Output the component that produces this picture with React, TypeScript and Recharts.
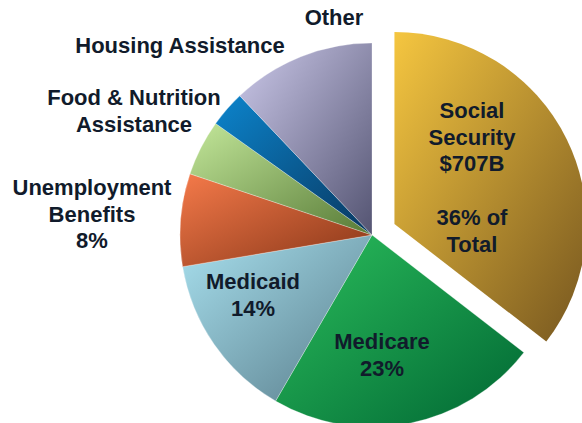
import React from "react";
import { PieChart, Pie, Cell } from "recharts";

const categories = [
  "Social Security",
  "Medicare",
  "Medicaid",
  "Unemployment Benefits",
  "Food & Nutrition Assistance",
  "Housing Assistance",
  "Other",
];
const shares = [35.5, 22.9, 14, 7.8, 4.7, 3.05, 12.1];
const labelLines: string[][] = [
  ["Social", "Security", "$707B", "", "36% of", "Total"],
  ["Medicare", "23%"],
  ["Medicaid", "14%"],
  ["Unemployment", "Benefits", "8%"],
  ["Food & Nutrition", "Assistance"],
  ["Housing Assistance"],
  ["Other"],
];

const data = categories.map((name, i) => ({ name, value: shares[i] }));

const gradients = [
  ["#F5C640", "#76561F"],
  ["#2BBE5C", "#006633"],
  ["#A8E0EE", "#587C8A"],
  ["#F57A4A", "#863517"],
  ["#C3E79A", "#577A36"],
  ["#0C84CC", "#08375F"],
  ["#CCC9EA", "#545472"],
];

// label anchors (first-line baseline, centre x) in chart pixels
const LABEL_POS: [number, number][] = [
  [472, 118],
  [382, 349],
  [253, 289],
  [92, 195],
  [134, 105],
  [180, 53],
  [334, 25],
];

const CX = 372;
const CY = 235;
const R = 192;
const EXPLODE = 25;

const total = shares.reduce((a, b) => a + b, 0);
const ssMid = 90 - (shares[0] / total) * 360 / 2;
const offX = EXPLODE * Math.cos((ssMid * Math.PI) / 180);
const offY = -EXPLODE * Math.sin((ssMid * Math.PI) / 180);

const renderLabel = (props: any) => {
  const i = props.index;
  const [x, y] = LABEL_POS[i];
  const lines = labelLines[i];
  return (
    <g key={`lbl-${i}`}>
      {lines.map((t, k) => (
        <text
          key={k}
          x={x}
          y={y + k * 26.7}
          textAnchor="middle"
          fill="#111B2B"
          fontFamily="'Liberation Sans', Arial, sans-serif"
          fontWeight="bold"
          fontSize={22}
        >
          {t}
        </text>
      ))}
    </g>
  );
};

export default function App() {
  return (
    <div style={{ position: "absolute", left: 0, top: 0, width: 582, height: 423, background: "#fff" }}>
      <PieChart width={582} height={423} margin={{ top: 0, right: 0, bottom: 0, left: 0 }}>
        <defs>
          {gradients.map((g, i) => (
            <linearGradient key={i} id={`grad${i}`} x1="0" y1="0" x2="1" y2="1">
              <stop offset="0%" stopColor={g[0]} />
              <stop offset="100%" stopColor={g[1]} />
            </linearGradient>
          ))}
        </defs>
        <Pie
          data={data}
          dataKey="value"
          cx={CX}
          cy={CY}
          innerRadius={0}
          outerRadius={R}
          startAngle={90}
          endAngle={-270}
          isAnimationActive={false}
          stroke="#ffffff"
          strokeOpacity={0.35}
          strokeWidth={0.8}
        >
          {data.map((d, i) => (
            <Cell key={i} fill={i === 0 ? "none" : `url(#grad${i})`} stroke={i === 0 ? "none" : "#ffffff"} />
          ))}
        </Pie>
        <Pie
          data={data}
          dataKey="value"
          cx={CX + offX}
          cy={CY + offY}
          innerRadius={0}
          outerRadius={R}
          startAngle={90}
          endAngle={-270}
          isAnimationActive={false}
          stroke="none"
          label={renderLabel}
          labelLine={false}
        >
          {data.map((d, i) => (
            <Cell key={i} fill={i === 0 ? "url(#grad0)" : "none"} />
          ))}
        </Pie>
      </PieChart>
    </div>
  );
}
